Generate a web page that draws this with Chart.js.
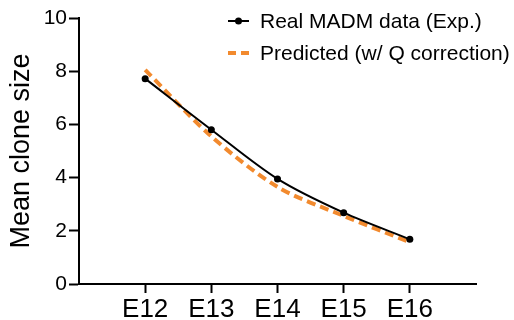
<!DOCTYPE html>
<html>
<head>
<meta charset="utf-8">
<script src="https://cdn.jsdelivr.net/npm/chart.js@4"></script>
<style>
  html, body { margin: 0; padding: 0; background: #fff; }
  #wrap { width: 514px; height: 320px; }
</style>
</head>
<body>
<div id="wrap"><canvas id="chart" width="514" height="320"></canvas></div>
<script>
const categories = ['E12', 'E13', 'E14', 'E15', 'E16'];
const realValues = [7.72, 5.8, 3.95, 2.68, 1.68];
const predictedValues = [8.05, 5.55, 3.65, 2.56, 1.57];
const seriesNames = ['Real MADM data (Exp.)', 'Predicted (w/ Q correction)'];
const yTicks = [0, 2, 4, 6, 8, 10];

const FONT = "'Liberation Sans', Arial, sans-serif";
const ORANGE = '#F28A2E';

const toPoints = (values) => values.map((v, i) => ({ x: i + 1, y: v }));

const legendPlugin = {
    id: 'sideLegend',
    afterDraw(chart) {
        const ctx = chart.ctx;
        ctx.save();
        ctx.font = `21px ${FONT}`;
        ctx.fillStyle = '#000';
        ctx.textBaseline = 'middle';
        // real data entry
        ctx.strokeStyle = '#000';
        ctx.lineWidth = 2;
        ctx.beginPath();
        ctx.moveTo(228, 21);
        ctx.lineTo(249, 21);
        ctx.stroke();
        ctx.beginPath();
        ctx.arc(238.5, 21, 3.5, 0, Math.PI * 2);
        ctx.fill();
        ctx.fillText(seriesNames[0], 260, 22);
        // predicted entry
        ctx.strokeStyle = ORANGE;
        ctx.lineWidth = 4;
        ctx.setLineDash([8, 5]);
        ctx.beginPath();
        ctx.moveTo(228, 53);
        ctx.lineTo(250, 53);
        ctx.stroke();
        ctx.setLineDash([]);
        ctx.fillText(seriesNames[1], 260, 54);
        ctx.restore();
    }
};

new Chart(document.getElementById('chart'), {
    type: 'line',
    data: {
        datasets: [
            {
                label: seriesNames[0],
                data: toPoints(realValues),
                borderColor: '#000',
                backgroundColor: '#000',
                borderWidth: 2,
                pointRadius: 3.5,
                pointBorderWidth: 0,
                tension: 0.3,
                order: 0,
            },
            {
                label: seriesNames[1],
                data: toPoints(predictedValues),
                borderColor: ORANGE,
                borderWidth: 4,
                borderDash: [9, 5],
                pointRadius: 0,
                tension: 0.3,
                order: 1,
            },
        ],
    },
    options: {
        responsive: false,
        animation: false,
        layout: { padding: { top: 18, right: 38, bottom: 0, left: 0 } },
        plugins: { legend: { display: false }, tooltip: { enabled: false } },
        scales: {
            x: {
                type: 'linear',
                min: 0,
                max: categories.length + 1,
                afterFit: (scale) => { scale.height = 36; },
                afterBuildTicks: (scale) => {
                    scale.ticks = categories.map((c, i) => ({ value: i + 1 }));
                },
                ticks: {
                    autoSkip: false,
                    maxRotation: 0,
                    padding: 1,
                    color: '#000',
                    font: { family: FONT, size: 26 },
                    callback: (v) => categories[v - 1] || '',
                },
                grid: { drawOnChartArea: false, tickLength: 9, tickWidth: 2, tickColor: '#000' },
                border: { color: '#000', width: 2 },
            },
            y: {
                min: 0,
                max: 10,
                afterFit: (scale) => { scale.width = 79; },
                afterBuildTicks: (scale) => {
                    scale.ticks = yTicks.map((v) => ({ value: v }));
                },
                ticks: {
                    padding: 2,
                    color: '#000',
                    font: { family: FONT, size: 21 },
                },
                grid: { drawOnChartArea: false, tickLength: 10, tickWidth: 2, tickColor: '#000' },
                border: { color: '#000', width: 2 },
                title: {
                    display: true,
                    text: 'Mean clone size',
                    color: '#000',
                    font: { family: FONT, size: 27 },
                    padding: { top: 5, bottom: 0 },
                },
            },
        },
    },
    plugins: [legendPlugin],
});
</script>
</body>
</html>
